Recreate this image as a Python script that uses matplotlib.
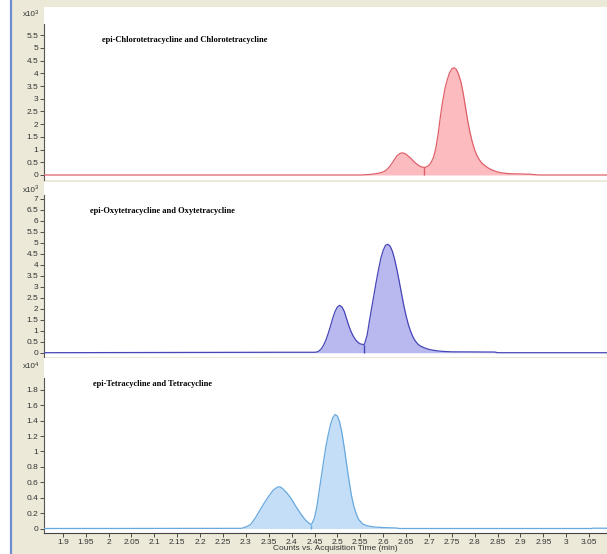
import matplotlib
matplotlib.use("Agg")
import matplotlib.pyplot as plt
from matplotlib.patches import Rectangle
from matplotlib.lines import Line2D
import numpy as np

# ---------------- data ----------------
# Panel 1: epi-Chlorotetracycline and Chlorotetracycline (counts x10^3)
ctc_time = [1.859, 2.555, 2.560, 2.570, 2.580, 2.590,
            2.600, 2.605, 2.610, 2.615, 2.620, 2.625, 2.630, 2.635, 2.640, 2.645,
            2.650, 2.655, 2.660, 2.665, 2.670, 2.675, 2.680, 2.685, 2.690, 2.695,
            2.700, 2.705, 2.710, 2.715, 2.720, 2.725, 2.730, 2.735, 2.740, 2.745,
            2.750, 2.755, 2.760, 2.765, 2.770, 2.775, 2.780, 2.785, 2.790, 2.795,
            2.800, 2.805, 2.810, 2.815, 2.820,
            2.830, 2.840, 2.850, 2.860, 2.870, 2.880, 2.900, 2.920, 2.940, 3.089]
ctc_vals = [0.0, 0.0, 0.01, 0.02, 0.04, 0.07,
            0.12, 0.17, 0.25, 0.35, 0.48, 0.62, 0.75, 0.83, 0.87, 0.86,
            0.82, 0.74, 0.66, 0.57, 0.48, 0.41, 0.35, 0.31, 0.30, 0.32,
            0.38, 0.50, 0.70, 1.05, 1.60, 2.30, 2.90, 3.40, 3.75, 4.02,
            4.18, 4.22, 4.15, 3.95, 3.65, 3.20, 2.65, 2.10, 1.65, 1.28,
            0.98, 0.76, 0.60, 0.48, 0.40,
            0.27, 0.18, 0.12, 0.08, 0.06, 0.05, 0.04, 0.03, 0.0, 0.0]
ctc_split = 2.690

# Panel 2: epi-Oxytetracycline and Oxytetracycline (counts x10^3)
otc_time = [1.859, 2.377, 2.440, 2.450,
            2.455, 2.460, 2.465, 2.470, 2.475, 2.480, 2.485, 2.490, 2.495, 2.500,
            2.505, 2.510, 2.515, 2.520, 2.525, 2.530, 2.535, 2.540, 2.545, 2.550,
            2.555, 2.558, 2.560, 2.565, 2.570, 2.575, 2.580, 2.585, 2.590, 2.595,
            2.600, 2.605, 2.610, 2.615, 2.620, 2.625, 2.630, 2.635, 2.640, 2.645,
            2.650, 2.655, 2.660, 2.665, 2.670, 2.675, 2.680,
            2.690, 2.700, 2.710, 2.720, 2.730, 2.750, 2.844, 2.850, 3.089]
otc_vals = [0.0, 0.02, 0.02, 0.02,
            0.03, 0.08, 0.18, 0.35, 0.58, 0.88, 1.22, 1.58, 1.88, 2.08,
            2.15, 2.08, 1.88, 1.55, 1.22, 0.95, 0.74, 0.58, 0.47, 0.40,
            0.38, 0.35, 0.45, 0.80, 1.45, 2.05, 2.65, 3.25, 3.80, 4.30,
            4.65, 4.88, 4.93, 4.85, 4.62, 4.25, 3.78, 3.25, 2.70, 2.15,
            1.68, 1.28, 0.97, 0.72, 0.54, 0.41, 0.32,
            0.22, 0.15, 0.11, 0.08, 0.06, 0.04, 0.03, 0.0, 0.0]
otc_split = 2.558

# Panel 3: epi-Tetracycline and Tetracycline (counts x10^4)
tc_time = [1.859, 2.290, 2.300, 2.310, 2.320, 2.330, 2.340, 2.350, 2.360, 2.370,
           2.375, 2.380, 2.390, 2.400, 2.410, 2.420, 2.430, 2.440, 2.442, 2.445,
           2.450, 2.455, 2.460, 2.465, 2.470, 2.475, 2.480, 2.485, 2.490, 2.495,
           2.500, 2.505, 2.510, 2.515, 2.520, 2.525, 2.530, 2.535, 2.540, 2.546,
           2.555, 2.565, 2.580, 2.600, 2.630, 2.635, 3.055, 3.058, 3.089]
tc_vals = [0.0, 0.002, 0.02, 0.05, 0.13, 0.23, 0.33, 0.42, 0.50, 0.54,
           0.54, 0.52, 0.46, 0.38, 0.28, 0.19, 0.11, 0.06, 0.05, 0.07,
           0.14, 0.28, 0.48, 0.68, 0.88, 1.07, 1.22, 1.35, 1.44, 1.48,
           1.46, 1.38, 1.24, 1.05, 0.84, 0.64, 0.45, 0.31, 0.21, 0.12,
           0.06, 0.035, 0.02, 0.012, 0.006, 0.0, 0.0, 0.004, 0.004]
tc_split = 2.442

titles = ["epi-Chlorotetracycline and Chlorotetracycline",
          "epi-Oxytetracycline and Oxytetracycline",
          "epi-Tetracycline and Tetracycline"]
exponents = ["3", "3", "4"]

y_ticks_1 = [0, 0.5, 1, 1.5, 2, 2.5, 3, 3.5, 4, 4.5, 5, 5.5]
y_ticks_2 = [0, 0.5, 1, 1.5, 2, 2.5, 3, 3.5, 4, 4.5, 5, 5.5, 6, 6.5, 7]
y_ticks_3 = [0, 0.2, 0.4, 0.6, 0.8, 1, 1.2, 1.4, 1.6, 1.8]

x_ticks = [1.9, 1.95, 2.0, 2.05, 2.1, 2.15, 2.2, 2.25, 2.3, 2.35, 2.4, 2.45,
           2.5, 2.55, 2.6, 2.65, 2.7, 2.75, 2.8, 2.85, 2.9, 2.95, 3.0, 3.05]
x_tick_labels = ["1.9", "1.95", "2", "2.05", "2.1", "2.15", "2.2", "2.25", "2.3",
                 "2.35", "2.4", "2.45", "2.5", "2.55", "2.6", "2.65", "2.7", "2.75",
                 "2.8", "2.85", "2.9", "2.95", "3", "3.05"]
x_label = "Counts vs. Acquisition Time (min)"

# ---------------- style ----------------
W, H = 607, 554
BG = "#ECE9D8"
line_colors = ["#E0606A", "#4646B8", "#68A8DE"]
fill_colors = ["#FBBBBF", "#B9B9F0", "#C3DEF6"]

fig = plt.figure(figsize=(W / 100, H / 100), dpi=100, facecolor=BG)
fig.patches.append(Rectangle((0, 0), 10 / W, 1, transform=fig.transFigure,
                             facecolor="white", edgecolor="none", zorder=0))
fig.lines.append(Line2D([10.5 / W, 10.5 / W], [0, 1], transform=fig.transFigure,
                        color="#6E8CD2", lw=1.6))

xlim = (1.859, 3.089)
# (top px, bottom px, ylim bottom, ylim top, spine top value)
panels = [
    (7, 180, -0.197, 6.61, 5.95),
    (182, 357, -0.195, 7.76, 7.17),
    (358, 533.3, -0.0623, 2.214, 1.95),
]
series = [(ctc_time, ctc_vals, ctc_split, y_ticks_1),
          (otc_time, otc_vals, otc_split, y_ticks_2),
          (tc_time, tc_vals, tc_split, y_ticks_3)]
title_pos = [(102, 39.5), (90, 211), (93, 384.5)]
exp_pos = [13, 189, 366]

sans = "Liberation Sans"
tick_fs = 6.0
for i, ((top, bot, y0, y1, stop), (t, v, split, yt)) in enumerate(zip(panels, series)):
    ax = fig.add_axes([44 / W, 1 - bot / H, (W - 44) / W, (bot - top) / H])
    ax.set_facecolor("white")
    ax.set_xlim(*xlim)
    ax.set_ylim(y0, y1)
    t = np.asarray(t)
    v = np.asarray(v)
    ax.fill_between(t, v, 0, color=fill_colors[i], lw=0, zorder=2)
    ax.plot(t, v, color=line_colors[i], lw=0.9, zorder=3)
    k = int(np.argmin(np.abs(t - split)))
    ax.vlines(t[k], 0, v[k], color=line_colors[i], lw=1.0, zorder=3)
    for s in ["top", "right"]:
        ax.spines[s].set_visible(False)
    ax.spines["left"].set_color("#555555")
    ax.spines["left"].set_linewidth(0.8)
    ax.spines["left"].set_bounds(y0, stop)
    ax.set_yticks(yt)
    ax.set_yticklabels(["%g" % y for y in yt])
    ax.tick_params(axis="y", direction="out", length=3, width=0.6, pad=1,
                   labelsize=tick_fs, colors="#333333")
    for lab in ax.get_yticklabels():
        lab.set_fontfamily(sans)
    if i < 2:
        ax.spines["bottom"].set_visible(False)
        ax.set_xticks([])
    else:
        ax.spines["bottom"].set_color("#444444")
        ax.spines["bottom"].set_linewidth(0.8)
        ax.set_xticks(x_ticks)
        ax.set_xticklabels(x_tick_labels)
        ax.tick_params(axis="x", direction="out", length=3, width=0.6, pad=1,
                       labelsize=tick_fs, colors="#333333")
        for lab in ax.get_xticklabels():
            lab.set_fontfamily(sans)
    tx, ty = title_pos[i]
    fig.text(tx / W, 1 - ty / H, titles[i], fontfamily="Liberation Serif",
             fontweight="bold", fontsize=6.0, va="center", ha="left", color="black")
    fig.text(22.5 / W, 1 - (exp_pos[i] + 1) / H, "x10", fontfamily=sans, fontsize=5.8,
             va="center", ha="left", color="#333333")
    fig.text(34.5 / W, 1 - (exp_pos[i] - 1) / H, exponents[i], fontfamily=sans,
             fontsize=4.2, va="center", ha="left", color="#333333")

fig.text(335 / W, 1 - 549 / H, x_label, fontfamily=sans, fontsize=tick_fs,
         ha="center", va="center", color="#333333")

fig.savefig("out.png", dpi=100, facecolor=BG)
